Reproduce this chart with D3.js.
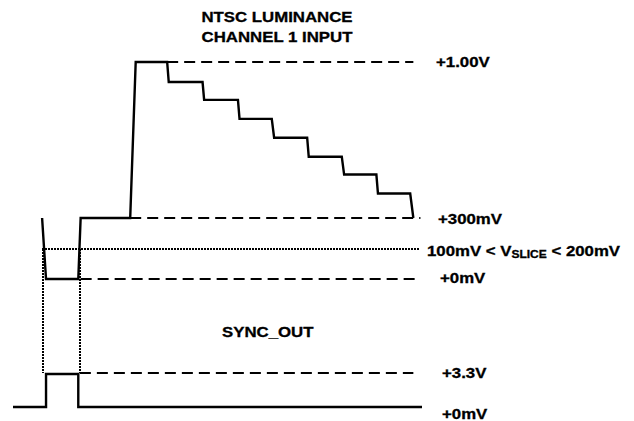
<!DOCTYPE html>
<html>
<head>
<meta charset="utf-8">
<script src="https://cdn.jsdelivr.net/npm/d3@7"></script>
<style>
  html, body { margin: 0; padding: 0; background: #fff; }
  text { font-family: "Liberation Sans", Arial, sans-serif; font-weight: bold; fill: #000; }
</style>
</head>
<body>
<div id="chart-container"></div>
<script>
// Waveform data: time in µs, luminance in mV, sync in V
const lumTime  = [3.7, 4.2, 8.3, 8.6, 14.9, 15.6, 19.6, 19.8, 24.1, 24.3, 28.6, 28.8, 32.9, 33.2, 37.4, 37.6, 41.8, 42.1, 46.2, 46.4, 50.5, 50.9];
const lumLevel = [300, 0, 0, 300, 300, 1000, 1000, 910, 910, 830, 830, 745, 745, 660, 660, 575, 575, 495, 495, 410, 410, 300];

const syncTime  = [0, 4.2, 4.2, 8.3, 8.3, 52];
const syncLevel = [0, 0, 3.3, 3.3, 0, 0];

// Reference levels (dashed lines) for the luminance input
const refLevels = [1000, 300, 0];
const refStart  = [19.6, 14.9, 8.6];
const refEnd    = [50.9, 51.8, 51.8];
const refLabels = ["+1.00V", "+300mV", "+0mV"];

// Slice threshold (dotted)
const sliceLevel = 150;
const sliceStart = 3.7;
const sliceEnd = 51.8;

// Sync output reference levels
const syncRefLevels = [3.3, 0];
const syncRefLabels = ["+3.3V", "+0mV"];
const syncRefStart = 8.5;
const syncRefEnd = 50.9;

// Dotted drop lines from the slice crossings down to the sync pulse
const dropTimes = [3.8, 8.5];

const W = 634, H = 421;
const sx = 1.2; // horizontal text stretch

const x = d3.scaleLinear().domain([0, 52]).range([13, 422]);
const yLum = d3.scaleLinear().domain([0, 300, 1000]).range([279, 218, 62]);
const ySync = d3.scaleLinear().domain([0, 3.3]).range([407, 374]);

const svg = d3.select("#chart-container")
  .append("svg")
  .attr("width", W)
  .attr("height", H);

svg.append("rect").attr("width", W).attr("height", H).attr("fill", "#fff");

const line = d3.line();

// dashed reference lines
refLevels.forEach((lv, i) => {
  svg.append("line")
    .attr("x1", x(refStart[i])).attr("x2", x(refEnd[i]))
    .attr("y1", yLum(lv)).attr("y2", yLum(lv))
    .attr("stroke", "#000").attr("stroke-width", 2.2)
    .attr("stroke-dasharray", "11,6");
});

svg.append("line")
  .attr("x1", x(syncRefStart)).attr("x2", x(syncRefEnd))
  .attr("y1", ySync(3.3) - 1).attr("y2", ySync(3.3) - 1)
  .attr("stroke", "#000").attr("stroke-width", 2.2)
  .attr("stroke-dasharray", "11,6");

// dotted slice line
const ySlice = Math.round(yLum(sliceLevel));
svg.append("line")
  .attr("x1", x(sliceStart)).attr("x2", x(sliceEnd))
  .attr("y1", ySlice).attr("y2", ySlice)
  .attr("stroke", "#000").attr("stroke-width", 2)
  .attr("stroke-dasharray", "2,1")
  .attr("shape-rendering", "crispEdges");

// dotted drop lines
dropTimes.forEach(t => {
  const xp = Math.round(x(t));
  svg.append("line")
    .attr("x1", xp).attr("x2", xp)
    .attr("y1", ySlice).attr("y2", ySync(3.3) - 1)
    .attr("stroke", "#000").attr("stroke-width", 2)
    .attr("stroke-dasharray", "2,1")
    .attr("shape-rendering", "crispEdges");
});

// luminance waveform
svg.append("path")
  .attr("d", line(lumTime.map((t, i) => [x(t), yLum(lumLevel[i])])))
  .attr("fill", "none").attr("stroke", "#000").attr("stroke-width", 2.4)
  .attr("stroke-linejoin", "miter");

// sync waveform
svg.append("path")
  .attr("d", line(syncTime.map((t, i) => [x(t), ySync(syncLevel[i])])))
  .attr("fill", "none").attr("stroke", "#000").attr("stroke-width", 2.4);

// text helper: stretched bold text
function label(px, py, anchor) {
  return svg.append("text")
    .attr("transform", `translate(${px},${py}) scale(${sx},1)`)
    .attr("text-anchor", anchor || "start")
    .style("font-size", "14px")
    .style("stroke", "#000")
    .style("stroke-width", 0.3);
}

// title
label(277, 22, "middle").text("NTSC LUMINANCE");
label(277, 42, "middle").text("CHANNEL 1 INPUT");
label(222, 337).text("SYNC_OUT");

// luminance level labels
const refLabelX = [436, 438, 440];
const refLabelDy = [5, 6, 4];
refLevels.forEach((lv, i) => {
  label(refLabelX[i], yLum(lv) + refLabelDy[i]).text(refLabels[i]);
});

// slice label
const sl = label(427, yLum(sliceLevel) + 7.5);
sl.append("tspan").text("100mV < V");
sl.append("tspan").attr("dy", 2).style("font-size", "10px").text("SLICE");
sl.append("tspan").attr("dy", -2).text(" < 200mV");

// sync labels
const syncLabelDy = [4, 12];
syncRefLevels.forEach((lv, i) => {
  label(442, ySync(lv) + syncLabelDy[i]).text(syncRefLabels[i]);
});
</script>
</body>
</html>
